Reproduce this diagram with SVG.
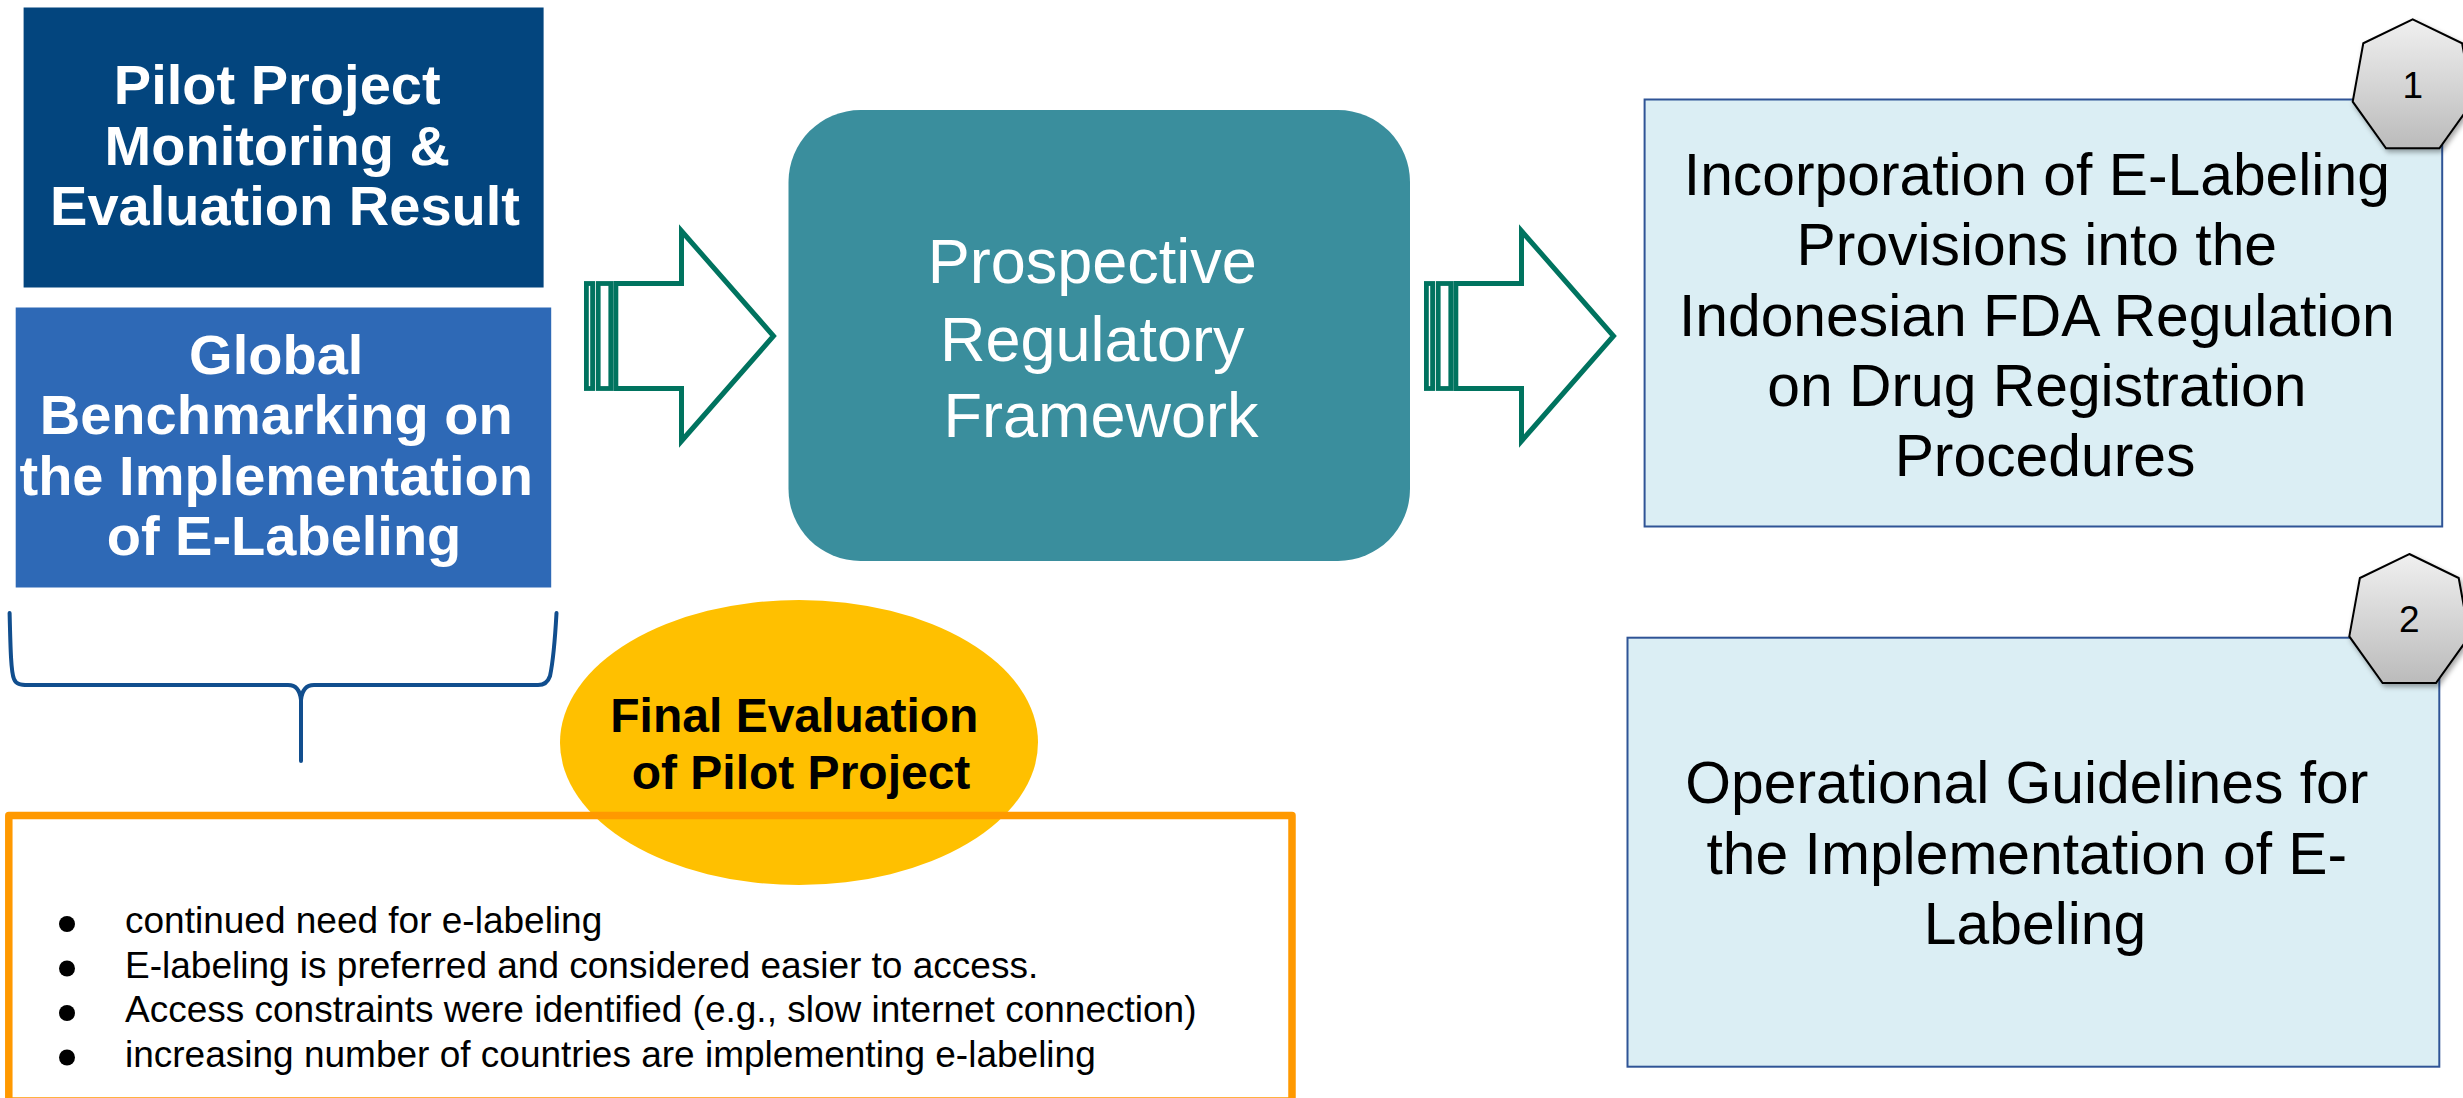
<svg xmlns="http://www.w3.org/2000/svg" width="2463" height="1098" viewBox="0 0 2463 1098">
  <style>
    .bold { font-family: "Liberation Sans", Arial, sans-serif; font-weight: bold; }
    .reg { font-family: "Liberation Sans", Arial, sans-serif; }
    .wt { fill: #ffffff; }
    .bk { fill: #000000; }
    .arrow { fill: #ffffff; stroke: #00735F; stroke-width: 5; stroke-linejoin: miter; stroke-miterlimit: 10; }
    .stripe { fill: #ffffff; stroke: #00735F; stroke-width: 4.8; }
    .outbox { fill: #DBEEF4; stroke: #2F5496; stroke-width: 2; }
    .hept { fill: url(#heptGrad); stroke: #000000; stroke-width: 2; stroke-linejoin: miter; }
  </style>
  <defs>
    <linearGradient id="heptGrad" x1="0" y1="0" x2="0" y2="1">
      <stop offset="0" stop-color="#F0F0F0"/>
      <stop offset="1" stop-color="#BBBBBB"/>
    </linearGradient>
    <filter id="shadow" x="-20%" y="-20%" width="140%" height="140%">
      <feDropShadow dx="2" dy="3" stdDeviation="2.5" flood-color="#000000" flood-opacity="0.35"/>
    </filter>
    <polygon id="heptShape" points="0,0 49.4,24 60,82.4 26.7,129 -26.7,129 -60,82.4 -49.4,24"/>
    <g id="stripedArrow">
      <rect class="stripe" x="586.4" y="283.5" width="6.2" height="105"/>
      <rect class="stripe" x="598.2" y="283.5" width="12.6" height="105"/>
      <path class="arrow" d="M615.8,283.5 L681.5,283.5 L681.5,231 L773.5,336 L681.5,441 L681.5,388.5 L615.8,388.5 Z"/>
    </g>
  </defs>

  <rect width="2463" height="1098" fill="#ffffff"/>

  <g id="node-pilot-monitoring">
    <rect x="23.6" y="7.5" width="520" height="280" fill="#03457E"/>
    <text class="bold wt" font-size="56" text-anchor="middle">
      <tspan x="285" y="104">Pilot Project</tspan>
      <tspan x="285" y="164.5">Monitoring &amp;</tspan>
      <tspan x="285" y="225">Evaluation Result</tspan>
    </text>
  </g>

  <g id="node-global-benchmarking">
    <rect x="15.7" y="307.5" width="535.5" height="280" fill="#2E69B6"/>
    <text class="bold wt" font-size="56" text-anchor="middle">
      <tspan x="284" y="374.3">Global</tspan>
      <tspan x="284" y="434.4">Benchmarking on</tspan>
      <tspan x="284" y="494.8">the Implementation</tspan>
      <tspan x="284" y="555">of E-Labeling</tspan>
    </text>
  </g>

  <g id="connectors">
    <use href="#stripedArrow"/>
    <use href="#stripedArrow" transform="translate(840,0)"/>
  </g>

  <g id="node-prospective-framework">
    <rect x="788.5" y="110" width="621.5" height="451" rx="72" ry="72" fill="#3A8E9D"/>
    <text class="reg wt" font-size="63" text-anchor="middle">
      <tspan x="1101" y="283.3">Prospective</tspan>
      <tspan x="1101" y="360.7">Regulatory</tspan>
      <tspan x="1101" y="436.7">Framework</tspan>
    </text>
  </g>

  <g id="node-incorporation">
    <rect class="outbox" x="1644.6" y="99.5" width="797.6" height="427"/>
    <text class="reg bk" font-size="58.8" text-anchor="middle">
      <tspan x="2045" y="195">Incorporation of E-Labeling</tspan>
      <tspan x="2045" y="265.3">Provisions into the</tspan>
      <tspan x="2045" y="336">Indonesian FDA Regulation</tspan>
      <tspan x="2045" y="406">on Drug Registration</tspan>
      <tspan x="2045" y="476">Procedures</tspan>
    </text>
  </g>

  <g id="node-badge-1">
    <use href="#heptShape" class="hept" filter="url(#shadow)" transform="translate(2412.7,19.3)"/>
    <text class="reg bk" font-size="37" text-anchor="middle" x="2412.7" y="98.3">1</text>
  </g>

  <g id="node-operational-guidelines">
    <rect class="outbox" x="1627.5" y="637.7" width="811.8" height="429"/>
    <text class="reg bk" font-size="58.8" text-anchor="middle">
      <tspan x="2035" y="803">Operational Guidelines for</tspan>
      <tspan x="2035" y="874">the Implementation of E-</tspan>
      <tspan x="2035" y="944">Labeling</tspan>
    </text>
  </g>

  <g id="node-badge-2">
    <use href="#heptShape" class="hept" filter="url(#shadow)" transform="translate(2409.3,554)"/>
    <text class="reg bk" font-size="37" text-anchor="middle" x="2409.3" y="631.7">2</text>
  </g>

  <g id="bracket">
    <path d="M9.6,613 C10.5,650 11,672 14,679 C16,684 20,685 28,685 L288,685 C296,685 300,690 301,700 L301,761 M301,700 C302,690 306,685 314,685 L538,685 C544,685 548,682 550,676 C553,662 555,640 556.5,613" fill="none" stroke="#114E8E" stroke-width="4" stroke-linecap="round" stroke-linejoin="round"/>
  </g>

  <g id="node-final-evaluation">
    <ellipse cx="799" cy="742.5" rx="239" ry="142.5" fill="#FFC000"/>
    <text class="bold bk" font-size="48" text-anchor="middle">
      <tspan x="801" y="731.7">Final Evaluation</tspan>
      <tspan x="801" y="789.3">of Pilot Project</tspan>
    </text>
  </g>

  <g id="node-findings">
    <rect x="8.8" y="815.5" width="1283.2" height="285.5" fill="none" stroke="#FF9900" stroke-width="7.5" stroke-linejoin="round"/>
    <g class="bk">
      <circle cx="67" cy="924" r="8"/>
      <circle cx="67" cy="968.5" r="8"/>
      <circle cx="67" cy="1013" r="8"/>
      <circle cx="67" cy="1057.5" r="8"/>
    </g>
    <text class="reg bk" font-size="37">
      <tspan x="125" y="933.3">continued need for e-labeling</tspan>
      <tspan x="125" y="977.8">E-labeling is preferred and considered easier to access.</tspan>
      <tspan x="125" y="1022.3">Access constraints were identified (e.g., slow internet connection)</tspan>
      <tspan x="125" y="1066.8">increasing number of countries are implementing e-labeling</tspan>
    </text>
  </g>
</svg>
